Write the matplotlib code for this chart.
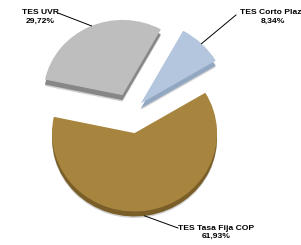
import numpy as np
import matplotlib
matplotlib.use('Agg')
import matplotlib.pyplot as plt

# data
labels = ['TES Tasa Fija COP', 'TES Corto Plazo', 'TES UVR']
shares = [61.93, 8.34, 29.72]
pct_labels = ['61,93%', '8,34%', '29,72%']

top_colors = ['#a8853f', '#b3c6dd', '#bebebe']
side_colors = ['#7a5e27', '#92a7c2', '#878787']
shadow_color = '#9a9a9a'

# layout (reference pixels)
W, H = 301, 245
CX, CY = 131.0, 113.0      # pie centre
R = 82.5                   # radius in px
K = 0.95                   # vertical squash of the tilted pie
THICK = 5                  # side height in px
explode = [0.26, 0.17, 0.25]
depth_scale = [1.0, 1.06, 0.96]   # perspective: back slices look smaller

label_pos = [(216, 232), (273, 17), (40, 17)]
line_start = [(178, 228), (236, 15), (58, 13)]
line_angle = [277, 46, 113]


def to_data(px, py):
    return (px - CX) / R, (CY - py) / (R * K)


fig = plt.figure(figsize=(W / 100, H / 100), dpi=100)
ax = fig.add_axes([0, 0, 1, 1])

pie_kw = dict(explode=explode, startangle=168, counterclock=True,
              wedgeprops=dict(linewidth=0))

# soft shadow, dark side, then top face
shadow_wedges, _ = ax.pie(shares, colors=[shadow_color] * 3,
                          center=(0, -(THICK + 1.5) / (R * K)), **pie_kw)
side_wedges, _ = ax.pie(shares, colors=side_colors,
                        center=(0, -THICK / (R * K)), **pie_kw)
top_wedges, _ = ax.pie(shares, colors=top_colors, **pie_kw)
for group in (shadow_wedges, side_wedges, top_wedges):
    for w, s in zip(group, depth_scale):
        w.set_radius(s)
for w in shadow_wedges:
    w.set_alpha(0.45)

ax.set_aspect('auto')
ax.set_xlim(to_data(0, 0)[0], to_data(W, 0)[0])
ax.set_ylim(to_data(0, H)[1], to_data(0, 0)[1])
ax.axis('off')

for i, (name, pct) in enumerate(zip(labels, pct_labels)):
    tx, ty = to_data(*label_pos[i])
    ax.text(tx, ty, f'{name}\n{pct}', ha='center', va='center',
            fontsize=6.1, fontweight='bold', linespacing=1.2,
            family='Liberation Sans')
    wedge = side_wedges[i] if i == 0 else top_wedges[i]
    wx, wy = wedge.center
    a = np.deg2rad(line_angle[i])
    sx, sy = to_data(*line_start[i])
    ax.plot([sx, wx + wedge.r * np.cos(a)], [sy, wy + wedge.r * np.sin(a)],
            color='black', lw=0.7)

fig.savefig('out.png', dpi=100)
